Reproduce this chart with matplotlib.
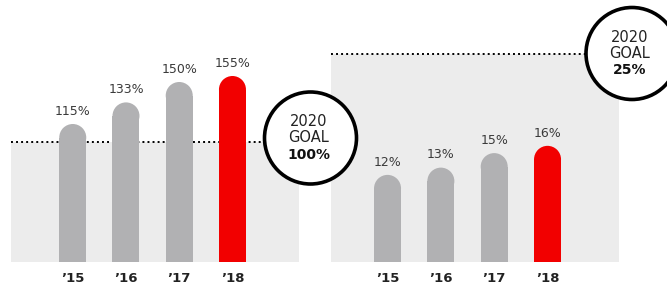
import matplotlib
matplotlib.use("Agg")
import matplotlib.pyplot as plt
from matplotlib.patches import Circle

# data
years = ["\u201915", "\u201916", "\u201917", "\u201918"]
left_values = [115, 133, 150, 155]
right_values = [12, 13, 15, 16]
left_goal = 100
right_goal = 25

# layout (pixels), values scale per panel
W, H = 667, 289
bar_px = 27
gray = "#b1b1b3"
red = "#f20000"
shade = "#ececec"
txt = "#3a3a3a"

plt.rcParams["font.family"] = ["DejaVu Sans"]
fig = plt.figure(figsize=(W / 100, H / 100), dpi=100)


def panel(left_px, values, band_top, ymax, xlim):
    ax = fig.add_axes([left_px / W, 27 / H, 288 / W, 262 / H])
    ax.set_xlim(*xlim)
    ax.set_ylim(0, ymax)
    ax.axhspan(0, band_top, color=shade, lw=0, zorder=0)
    ax.axhline(band_top, color="black", lw=1.4, linestyle=(0, (1, 1.6)), zorder=1)

    x = list(range(len(values)))
    # pixel sizes -> data sizes
    p0 = ax.transData.transform((0, 0))
    p1 = ax.transData.transform((1, 1))
    px_x = p1[0] - p0[0]
    px_y = p1[1] - p0[1]
    w = bar_px / px_x
    r = (bar_px / 2) / px_y
    colors = [gray] * (len(values) - 1) + [red]

    ax.bar(x, [v - r for v in values], width=w, color=colors, lw=0, zorder=2)
    ax.scatter(x, [v - r for v in values], s=(bar_px * 0.72) ** 2,
               c=colors, marker="o", linewidths=0, zorder=2)
    for xi, v in zip(x, values):
        ax.annotate(f"{v}%", (xi, v), xytext=(0, 4.5), textcoords="offset points",
                    ha="center", va="bottom", fontsize=9, color=txt)

    ax.set_xticks(x)
    ax.set_xticklabels(years, fontsize=9.5, fontweight="bold", color="#222222")
    ax.tick_params(axis="x", length=0, pad=7)
    ax.set_yticks([])
    for s in ax.spines.values():
        s.set_visible(False)
    ax.patch.set_alpha(0)
    return ax


panel(11, left_values, left_goal, 262 / 1.2, (-1.16, 4.25))
panel(331, right_values, 28.6, 262 / 7.26, (-1.06, 4.34))

# goal badges
ov = fig.add_axes([0, 0, 1, 1])
ov.set_xlim(0, W)
ov.set_ylim(H, 0)
ov.axis("off")
for (cx, cy), goal in [((310.5, 138), left_goal), ((632, 53.5), right_goal)]:
    ov.add_patch(Circle((cx, cy), 46, fc="white", ec="black", lw=2.6, zorder=5))
    ov.text(cx - 2, cy - 16, "2020", ha="center", va="center", fontsize=10.5, color="#222222", zorder=6)
    ov.text(cx - 2, cy, "GOAL", ha="center", va="center", fontsize=10.5, color="#222222", zorder=6)
    ov.text(cx - 2, cy + 17, f"{goal}%", ha="center", va="center", fontsize=10,
            fontweight="bold", color="#111111", zorder=6)

fig.savefig("out.png", dpi=100)
